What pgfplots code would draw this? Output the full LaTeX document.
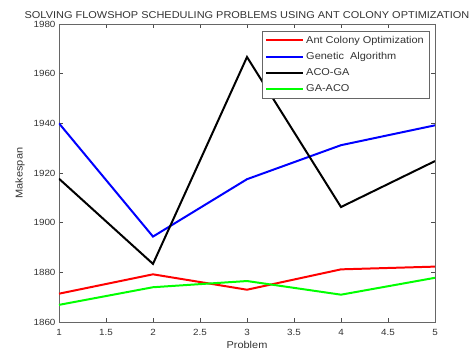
\documentclass[border=0pt]{standalone}
\usepackage{pgfplots}
\pgfplotsset{compat=1.18}
\usepackage{fontspec}
\setmainfont[FakeStretch=1.1]{Liberation Sans}
\begin{document}
\begin{tikzpicture}
\begin{axis}[
  at={(0,0)}, anchor=south west,
  scale only axis,
  width=376bp, height=298bp,
  xmin=1, xmax=5, ymin=1860, ymax=1980,
  xtick={1,1.5,2,2.5,3,3.5,4,4.5,5},
  xticklabels={1,1.5,2,2.5,3,3.5,4,4.5,5},
  ytick={1860,1880,1900,1920,1940,1960,1980},
  /pgf/number format/assume math mode=true,
  /pgf/number format/1000 sep={},
  tick align=inside,
  major tick length=4bp,
  tick style={black!70, line width=0.4pt},
  axis line style={black!60, line width=0.6pt},
  ticklabel style={font=\fontsize{9}{10}\selectfont, text=black!80},
  xticklabel style={yshift=-3.5bp},
  xlabel={Problem}, ylabel={Makespan},
  label style={font=\fontsize{10}{11}\selectfont, text=black!80},
  xlabel style={yshift=1bp},
  ylabel style={yshift=2bp},
  title={SOLVING FLOWSHOP SCHEDULING PROBLEMS USING ANT COLONY OPTIMIZATION},
  title style={font=\fontsize{10}{11}\selectfont, text=black!80, yshift=-4bp},
  legend style={at={(0.984,0.977)}, anchor=north east, draw=black!60,
    font=\fontsize{10}{11}\selectfont, text=black!80, row sep=3.6pt,
    inner sep=3pt},
  legend cell align=left,
  legend image code/.code={\draw[#1] (0bp,0bp) -- (37bp,0bp);},
  every axis plot/.append style={line width=2pt},
]
\addplot[color=red] coordinates {(1,1871.4) (2,1879.2) (3,1873) (4,1881.2) (5,1882.3)};
\addlegendentry{Ant Colony Optimization}
\addplot[color=blue] coordinates {(1,1940) (2,1894.4) (3,1917.5) (4,1931.2) (5,1939.2)};
\addlegendentry{Genetic\ \ Algorithm}
\addplot[color=black] coordinates {(1,1917.7) (2,1883.4) (3,1966.7) (4,1906.3) (5,1924.8)};
\addlegendentry{ACO-GA}
\addplot[color=green] coordinates {(1,1866.9) (2,1874) (3,1876.5) (4,1871) (5,1877.8)};
\addlegendentry{GA-ACO}
\end{axis}
\pgfresetboundingbox
\path[use as bounding box] (-59bp,-30bp) rectangle (417bp,322bp);
\end{tikzpicture}
\end{document}
